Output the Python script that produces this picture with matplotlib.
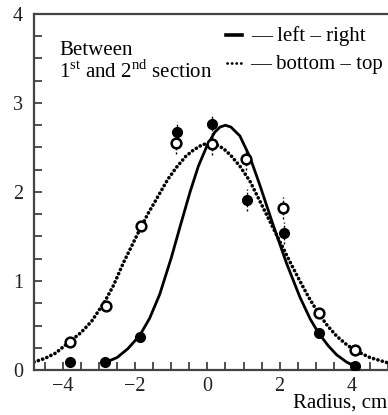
import matplotlib
matplotlib.use("Agg")
import matplotlib.pyplot as plt
from matplotlib.lines import Line2D
from matplotlib.ticker import MultipleLocator, FixedLocator

plt.rcParams['font.family'] = ['Liberation Serif', 'DejaVu Serif']
plt.rcParams['mathtext.fontset'] = 'custom'
plt.rcParams['mathtext.rm'] = 'Liberation Serif'

# measured points: left-right (filled) and bottom-top (open)
lr_x = [-3.81, -2.84, -1.87, -0.85, 0.12, 1.09, 2.12, 3.1, 4.09]
lr_y = [0.09, 0.09, 0.37, 2.67, 2.76, 1.91, 1.54, 0.42, 0.04]
lr_err = [0.0, 0.0, 0.0, 0.12, 0.12, 0.12, 0.12, 0.0, 0.0]

bt_x = [-3.81, -2.82, -1.85, -0.87, 0.13, 1.07, 2.08, 3.1, 4.09]
bt_y = [0.32, 0.72, 1.62, 2.55, 2.54, 2.37, 1.82, 0.64, 0.22]
bt_err = [0.0, 0.0, 0.0, 0.12, 0.12, 0.12, 0.12, 0.0, 0.0]

# fitted curves
lr_fit_x = [-2.85, -2.5, -2.2, -1.87, -1.6, -1.32, -1.0, -0.75, -0.48, -0.25,
            -0.02, 0.2, 0.35, 0.5, 0.65, 0.9, 1.18, 1.45, 1.82, 2.19, 2.56,
            2.85, 3.07, 3.35, 3.58, 3.85, 4.09]
lr_fit_y = [0.08, 0.14, 0.24, 0.39, 0.58, 0.85, 1.26, 1.62, 2.00, 2.29,
            2.51, 2.67, 2.73, 2.75, 2.73, 2.63, 2.39, 2.08, 1.63, 1.20, 0.82,
            0.57, 0.42, 0.27, 0.17, 0.09, 0.04]

bt_fit_x = [-4.8, -4.5, -4.2, -3.84, -3.5, -3.2, -2.84, -2.6, -2.33, -2.1,
            -1.87, -1.64, -1.41, -1.1, -0.85, -0.6, -0.39, -0.15, 0.05, 0.25,
            0.44, 0.65, 0.9, 1.18, 1.45, 1.73, 2.01, 2.28, 2.56, 2.8, 3.07,
            3.32, 3.58, 3.84, 4.09, 4.5, 5.0]
bt_fit_y = [0.09, 0.13, 0.19, 0.31, 0.42, 0.55, 0.77, 0.95, 1.20, 1.39,
            1.58, 1.76, 1.92, 2.14, 2.28, 2.40, 2.47, 2.53, 2.55, 2.53,
            2.49, 2.41, 2.29, 2.12, 1.90, 1.67, 1.44, 1.22, 1.00, 0.82, 0.64,
            0.50, 0.38, 0.29, 0.22, 0.14, 0.08]

x_ticks = [-4, -2, 0, 2, 4]
x_ticklabels = ['\u22124', '\u22122', '0', '2', '4']
y_ticks = [0, 1, 2, 3, 4]

fig = plt.figure(figsize=(3.88, 4.15), dpi=100)
ax = fig.add_axes([34/388, 1 - 370/415, 1 - 34/388, (370 - 14)/415])

ax.plot(lr_fit_x, lr_fit_y, color='black', lw=2.0, solid_capstyle='round',
        solid_joinstyle='round')
ax.plot(bt_fit_x, bt_fit_y, color='black', lw=2.6, linestyle=(0, (0.05, 1.2)),
        dash_capstyle='round')

ax.errorbar(lr_x, lr_y, yerr=lr_err, fmt='o', color='black', ms=7,
            ecolor='black', elinewidth=1.0, capsize=0, zorder=4,
            ls='none')
ax.errorbar(bt_x, bt_y, yerr=bt_err, fmt='o', mfc='white', mec='black',
            mew=1.8, ms=7, ecolor='black', elinewidth=1.0, capsize=0,
            zorder=5, ls='none')
for coll in ax.collections:
    coll.set_linestyle((0, (1.5, 1.5)))

ax.set_xlim(-4.8, 5.0)
ax.set_ylim(0, 4)

ax.xaxis.set_major_locator(FixedLocator(x_ticks))
ax.set_xticklabels(x_ticklabels)
ax.xaxis.set_minor_locator(MultipleLocator(0.5))
ax.yaxis.set_major_locator(FixedLocator(y_ticks))
ax.yaxis.set_minor_locator(MultipleLocator(0.25))

ax.tick_params(which='both', direction='in', length=6, width=1.2, color='#333333',
               labelsize=14.5, labelcolor='#222222')
ax.tick_params(axis='x', which='major', pad=5)
ax.tick_params(axis='y', which='major', pad=8)

for side in ['left', 'bottom', 'top']:
    ax.spines[side].set_linewidth(1.6)
    ax.spines[side].set_color('#444444')
ax.spines['right'].set_visible(False)

fig.text(59/388, 1 - 55/415, 'Between', fontsize=15, ha='left', va='baseline')
fig.text(59/388, 1 - 78/415, '1$^{\\rm st}$ and 2$^{\\rm nd}$ section', fontsize=15,
         ha='left', va='baseline')

fig.add_artist(Line2D([226/388, 242/388], [1 - 35/415, 1 - 35/415],
                      transform=fig.transFigure, color='black', lw=2.6))
fig.add_artist(Line2D([227/388, 241/388], [1 - 63/415, 1 - 63/415],
                      transform=fig.transFigure, color='black', lw=2.0,
                      linestyle=(0, (0.05, 1.6)), dash_capstyle='round'))
fig.text(251/388, 1 - 41/415, '\u2014 left \u2013 right', fontsize=15, ha='left',
         va='baseline')
fig.text(250/388, 1 - 69/415, '\u2014 bottom \u2013 top', fontsize=15, ha='left',
         va='baseline')

fig.text(387/388, 1 - 408/415, 'Radius, cm', fontsize=15, ha='right', va='baseline')

fig.savefig('out.png', dpi=100)
